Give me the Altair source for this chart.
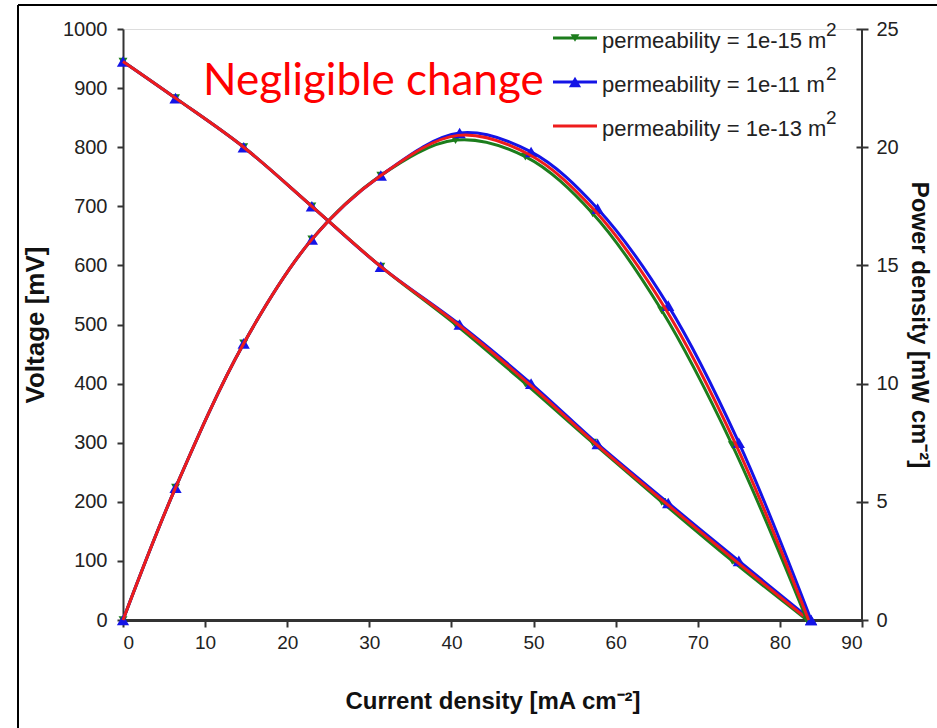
import altair as alt
import pandas as pd

# ---- data ----
labels = ["permeability = 1e-15 m", "permeability = 1e-11 m", "permeability = 1e-13 m"]
colors = ["#1c7d1c", "#1414e6", "#ee1c1c"]
shapes = ["triangle-down", "triangle-up", None]

# current density [mA cm-2]
x_15 = [0, 6.4, 14.7, 23.0, 31.4, 40.5, 49.0, 57.2, 65.6, 74.2, 83.3]
x_11 = [0, 6.4, 14.7, 23.0, 31.4, 41.0, 49.7, 57.8, 66.4, 75.0, 83.8]
x_13 = [0, 6.4, 14.7, 23.0, 31.4, 40.8, 49.4, 57.5, 66.0, 74.6, 83.5]
# voltage [mV]
v_15 = [945, 883, 800, 700, 598, 500, 400, 300, 200, 100, 0]
v_11 = [945, 883, 800, 700, 598, 500, 400, 298, 198, 100, 0]
v_13 = [945, 883, 800, 700, 598, 500, 400, 299, 199, 100, 0]
# power density [mW cm-2]
p_15 = [0, 5.6, 11.7, 16.1, 18.8, 20.3, 19.6, 17.2, 13.1, 7.4, 0]
p_11 = [0, 5.6, 11.7, 16.1, 18.8, 20.6, 19.8, 17.4, 13.3, 7.5, 0]
p_13 = [0, 5.6, 11.7, 16.1, 18.8, 20.5, 19.7, 17.3, 13.2, 7.45, 0]

x_ticks = [0, 10, 20, 30, 40, 50, 60, 70, 80, 90]
v_ticks = [0, 100, 200, 300, 400, 500, 600, 700, 800, 900, 1000]
p_ticks = [0, 5, 10, 15, 20, 25]

series = [
    (labels[0], colors[0], shapes[0], x_15, v_15, p_15),
    (labels[1], colors[1], shapes[1], x_11, v_11, p_11),
    (labels[2], colors[2], shapes[2], x_13, v_13, p_13),
]

W, H = 739, 591
AX = "#333333"
FONT = "Liberation Sans"

x_enc = alt.X(
    "x:Q",
    scale=alt.Scale(domain=[0, 90], nice=False),
    axis=alt.Axis(
        values=x_ticks, title="Current density [mA cm⁻²]", grid=False, format="d",
        domainColor=AX, domainWidth=3, tickColor=AX, tickWidth=2, tickSize=7,
        labelFont=FONT, labelFontSize=19, labelColor="#222222", labelPadding=6,
        titleFont=FONT, titleFontSize=24, titleFontWeight="bold", titleColor="#111111",
        titlePadding=37,
    ),
)

v_axis = alt.Axis(
    values=v_ticks, title="Voltage [mV]", grid=False, orient="left", format="d",
    domainColor=AX, domainWidth=2, tickColor=AX, tickWidth=2, tickSize=6,
    labelFont=FONT, labelFontSize=20, labelColor="#222222", labelPadding=10,
    titleFont=FONT, titleFontSize=26, titleFontWeight="bold", titleColor="#111111",
    titlePadding=14,
)
p_axis = alt.Axis(
    values=p_ticks, title="Power density [mW cm⁻²]", grid=False, orient="right", format="d",
    domain=False, offset=-6, tickColor=AX, tickWidth=2, tickSize=12,
    labelFont=FONT, labelFontSize=20, labelColor="#222222", labelPadding=8,
    titleFont=FONT, titleFontSize=24, titleFontWeight="bold", titleColor="#111111",
    titlePadding=8,
)

def layers_for(yenc):
    out = []
    for name, col, shp, xs, vs, ps in series:
        df = pd.DataFrame({"x": xs, "v": vs, "p": ps})
        base = alt.Chart(df)
        out.append(base.mark_line(color=col, strokeWidth=3, interpolate="catmull-rom")
                   .encode(x=x_enc, y=yenc))
        if shp is not None:
            size = 150 if shp == "triangle-up" else 80
            out.append(base.mark_point(shape=shp, filled=True, color=col, size=size, opacity=1)
                       .encode(x=x_enc, y=yenc))
    return out

v_enc = alt.Y("v:Q", scale=alt.Scale(domain=[0, 1000], nice=False), axis=v_axis)
p_enc = alt.Y("p:Q", scale=alt.Scale(domain=[0, 25], nice=False), axis=p_axis)

volt = alt.layer(*layers_for(v_enc))
powr = alt.layer(*layers_for(p_enc))

one = pd.DataFrame({"k": [0]})

# right axis line
right_line = alt.Chart(one).mark_rule(color=AX, strokeWidth=2).encode(
    x=alt.value(W), y=alt.value(0), y2=alt.value(H))

# legend
leg = []
row_y = [9, 53, 97]
for i, (name, col, shp, *_rest) in enumerate(series):
    ldf = pd.DataFrame({"t": [name], "s": ["2"]})
    b = alt.Chart(ldf)
    leg.append(b.mark_rule(color=col, strokeWidth=3).encode(
        x=alt.value(430), x2=alt.value(474), y=alt.value(row_y[i])))
    if shp is not None:
        size = 150 if shp == "triangle-up" else 80
        leg.append(b.mark_point(shape=shp, filled=True, color=col, size=size, opacity=1).encode(
            x=alt.value(452), y=alt.value(row_y[i])))
    leg.append(b.mark_text(align="left", baseline="middle", font=FONT, fontSize=22,
                           color="#222222").encode(
        x=alt.value(479), y=alt.value(row_y[i] + 3), text="t:N"))
    leg.append(b.mark_text(align="left", baseline="middle", font=FONT, fontSize=19,
                           color="#222222").encode(
        x=alt.value(703), y=alt.value(row_y[i] - 8), text="s:N"))

note = alt.Chart(pd.DataFrame({"t": ["Negligible change"]})).mark_text(
    align="left", baseline="alphabetic", font="Lato", fontSize=44, color="#ff0000"
).encode(x=alt.value(80), y=alt.value(66), text="t:N")

# outer frame of the figure (top and left edges)
frame_top = alt.Chart(one).mark_rule(color="#000000", strokeWidth=2).encode(
    x=alt.value(-105), x2=alt.value(820), y=alt.value(-24))
frame_left = alt.Chart(one).mark_rule(color="#000000", strokeWidth=2).encode(
    x=alt.value(-105), y=alt.value(-24), y2=alt.value(705))

chart = alt.layer(
    volt, powr, right_line, note, frame_top, frame_left, *leg
).resolve_scale(y="independent").properties(
    width=W, height=H,
    autosize=alt.AutoSizeParams(type="none"),
    padding={"left": 123, "top": 29, "right": 75, "bottom": 108},
).configure_view(stroke=None).configure(background="white")

chart.save("out.html", embed_options={"renderer": "svg", "actions": False})
